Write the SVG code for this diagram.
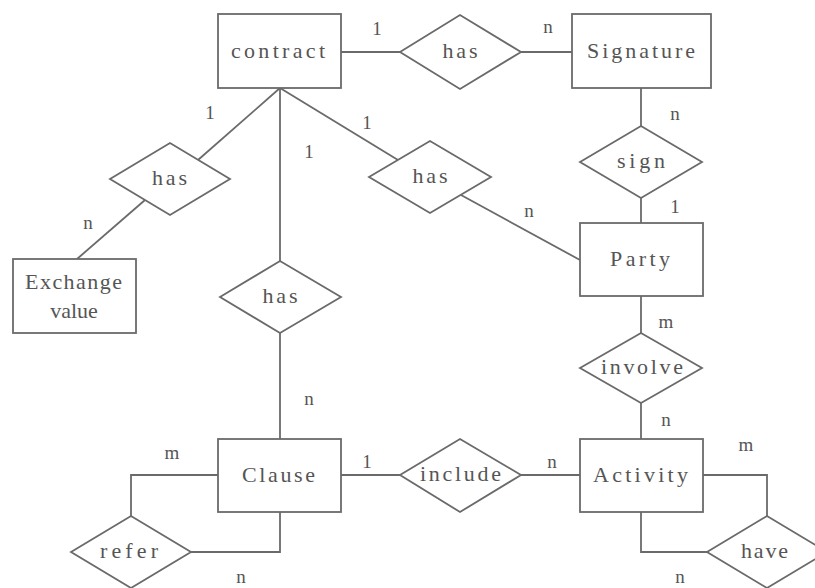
<svg xmlns="http://www.w3.org/2000/svg" width="815" height="588" viewBox="0 0 815 588">
<style>
.shape{fill:#fff;stroke:#6a6a6a;stroke-width:1.8}
.edge{fill:none;stroke:#6a6a6a;stroke-width:1.8}
.t{font-family:"Liberation Serif","DejaVu Serif",serif;font-size:22px;fill:#555;text-anchor:middle;dominant-baseline:central}
.c{font-family:"Liberation Serif","DejaVu Serif",serif;font-size:19px;fill:#555;text-anchor:middle;dominant-baseline:central}
</style>
<rect width="815" height="588" fill="#fff"/>
<g id="connectors">
<line class="edge" x1="341" y1="52" x2="400" y2="52"/>
<line class="edge" x1="521" y1="52" x2="572" y2="52"/>
<line class="edge" x1="280" y1="88" x2="198" y2="160"/>
<line class="edge" x1="145" y1="200" x2="77" y2="259"/>
<line class="edge" x1="280" y1="88" x2="280" y2="261"/>
<line class="edge" x1="280" y1="88" x2="398" y2="160"/>
<line class="edge" x1="461" y1="195" x2="580" y2="260"/>
<line class="edge" x1="641" y1="88" x2="641" y2="126"/>
<line class="edge" x1="641" y1="198" x2="641" y2="223"/>
<line class="edge" x1="641" y1="296" x2="641" y2="333"/>
<line class="edge" x1="641" y1="403" x2="641" y2="439"/>
<line class="edge" x1="280" y1="333" x2="280" y2="439"/>
<line class="edge" x1="341" y1="475" x2="400" y2="475"/>
<line class="edge" x1="521" y1="475" x2="580" y2="475"/>
<polyline class="edge" points="218,475 131,475 131,516"/>
<polyline class="edge" points="280,512 280,552 191,552"/>
<polyline class="edge" points="703,475 767,475 767,516"/>
<polyline class="edge" points="641,512 641,552 707,552"/>
</g>
<g id="contract"><rect class="shape" x="218" y="14" width="123" height="74"/><text class="t" x="278" y="50" textLength="94" lengthAdjust="spacing">contract</text></g>
<g id="signature"><rect class="shape" x="572" y="14" width="139" height="74"/><text class="t" x="641" y="50" textLength="108" lengthAdjust="spacing">Signature</text></g>
<g id="party"><rect class="shape" x="580" y="223" width="123" height="73"/><text class="t" x="640" y="258" textLength="60" lengthAdjust="spacing">Party</text></g>
<g id="exchange-value"><rect class="shape" x="13" y="259" width="123" height="74"/><text class="t" x="73.5" y="281" textLength="97" lengthAdjust="spacing">Exchange</text><text class="t" x="74" y="310">value</text></g>
<g id="clause"><rect class="shape" x="218" y="439" width="123" height="73"/><text class="t" x="278.5" y="474" textLength="73" lengthAdjust="spacing">Clause</text></g>
<g id="activity"><rect class="shape" x="580" y="439" width="123" height="73"/><text class="t" x="640.5" y="474" textLength="95" lengthAdjust="spacing">Activity</text></g>
<g id="has-signature"><polygon class="shape" points="400,52 460,15 521,52 460,89"/><text class="t" x="460" y="50" textLength="35" lengthAdjust="spacing">has</text></g>
<g id="has-exchange"><polygon class="shape" points="110,179 170,143 230,179 170,215"/><text class="t" x="169.5" y="177" textLength="35" lengthAdjust="spacing">has</text></g>
<g id="has-party"><polygon class="shape" points="369,177 430,141 491,177 430,213"/><text class="t" x="430" y="175" textLength="35" lengthAdjust="spacing">has</text></g>
<g id="has-clause"><polygon class="shape" points="220,297 280,261 341,297 280,333"/><text class="t" x="280" y="295" textLength="35" lengthAdjust="spacing">has</text></g>
<g id="sign"><polygon class="shape" points="580,162 641,126 702,162 641,198"/><text class="t" x="641" y="160" textLength="48" lengthAdjust="spacing">sign</text></g>
<g id="involve"><polygon class="shape" points="580,368 641,333 702,368 641,403"/><text class="t" x="642" y="366" textLength="82" lengthAdjust="spacing">involve</text></g>
<g id="include"><polygon class="shape" points="400,475 460,439 521,475 460,512"/><text class="t" x="460.5" y="473" textLength="81" lengthAdjust="spacing">include</text></g>
<g id="refer"><polygon class="shape" points="71,552 131,516 191,552 131,588"/><text class="t" x="129" y="550" textLength="58" lengthAdjust="spacing">refer</text></g>
<g id="have"><polygon class="shape" points="707,552 767,516 827,552 767,588"/><text class="t" x="764.5" y="550" textLength="47" lengthAdjust="spacing">have</text></g>
<g id="labels">
<text class="c" x="377" y="28">1</text>
<text class="c" x="548" y="26">n</text>
<text class="c" x="210" y="112">1</text>
<text class="c" x="309" y="151">1</text>
<text class="c" x="367" y="122">1</text>
<text class="c" x="88" y="222">n</text>
<text class="c" x="675" y="113">n</text>
<text class="c" x="675" y="206">1</text>
<text class="c" x="529" y="210">n</text>
<text class="c" x="666" y="321">m</text>
<text class="c" x="666" y="419">n</text>
<text class="c" x="309" y="398">n</text>
<text class="c" x="172" y="452">m</text>
<text class="c" x="367" y="461">1</text>
<text class="c" x="552" y="461">n</text>
<text class="c" x="746" y="444">m</text>
<text class="c" x="241" y="576">n</text>
<text class="c" x="680" y="576">n</text>
</g>
</svg>
